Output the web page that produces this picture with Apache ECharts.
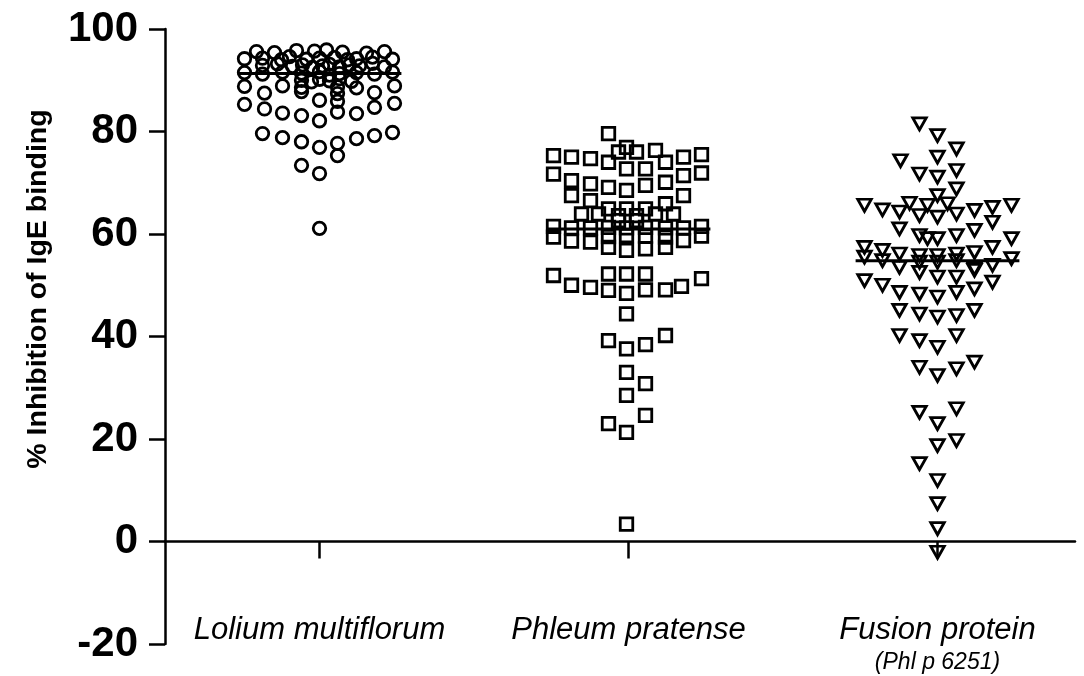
<!DOCTYPE html>
<html><head><meta charset="utf-8">
<script src="https://cdn.jsdelivr.net/npm/echarts@6/dist/echarts.min.js"></script>
<style>html,body{margin:0;padding:0;background:#fff}#c{width:1084px;height:676px}</style>
</head><body><div id="c"></div>
<script>
// ---- data ----
const categories = ['Lolium multiflorum', 'Phleum pratense', 'Fusion protein'];
const subLabels = ['', '', '(Phl p 6251)'];
const yTicks = [-20, 0, 20, 40, 60, 80, 100];
const yTitle = '% Inhibition of IgE binding';
const means = [91.3, 61.0, 54.8];
// [horizontal jitter (1/309 of category spacing), % inhibition]
const lolium = [
  [-63,95.6],[-45,95.4],[-23,95.8],[-5,95.7],[7,95.9],[23,95.5],[47,95.3],[65,95.6],
  [-75,94.2],[-57,94.3],[-38,94.0],[-30,94.6],[-13,94.1],[0,94.3],[15,94.4],[28,94.0],[37,94.2],[53,94.5],[73,94.1],
  [-57,92.9],[-42,93.2],[-27,92.7],[-17,93.0],[-7,92.5],[3,92.8],[10,93.1],[20,92.6],[30,93.0],[40,92.8],[53,93.3],[65,92.6],
  [-75,91.5],[-57,91.2],[-37,91.6],[-18,91.4],[0,91.7],[10,91.0],[20,91.3],[37,91.5],[55,91.2],[73,91.6],
  [-18,90.0],[-8,89.7],[0,90.2],[10,89.9],[20,90.3],[32,89.8],
  [-75,88.8],[-37,88.9],[-18,88.6],[18,88.7],[37,88.5],[75,88.9],
  [-55,87.5],[-18,87.8],[18,87.4],[55,87.6],
  [0,86.1],[18,85.9],
  [-75,85.3],[75,85.5],
  [-55,84.4],[55,84.7],
  [-37,83.6],[18,83.8],[37,83.5],
  [-18,83.1],[0,82.1],
  [-57,79.6],[73,79.8],[55,79.2],[-37,78.8],[37,78.6],[-18,78.0],[0,76.9],[18,77.7],
  [18,75.3],[-18,73.4],[0,71.8],[0,61.1]
];
const phleum = [
  [-20,79.6],
  [-2,76.9],
  [-10,76.0],[8,76.0],[27,76.3],
  [-75,75.3],[-57,75.0],[-38,74.7],[-20,74.0],[37,74.0],[55,75.0],[73,75.5],
  [-2,72.7],[17,72.7],
  [-75,71.7],[55,71.4],[73,71.9],
  [-57,70.4],[-38,69.8],[-20,69.1],[-2,68.5],[17,69.5],[37,70.1],
  [-57,67.5],[-38,66.5],[55,67.5],[37,65.9],
  [-47,63.9],[-30,63.9],[-20,64.9],[-10,63.6],[-2,64.9],[8,63.6],[17,64.9],[27,63.9],[45,63.9],
  [-10,62.6],[8,62.6],
  [-75,61.5],[-57,61.2],[-38,61.2],[-20,61.3],[-2,61.2],[17,61.3],[37,61.2],[55,61.2],[73,61.5],
  [-75,59.4],[-20,59.5],[-2,59.7],[17,59.6],[37,59.4],[73,59.6],
  [-57,58.6],[-38,58.4],[55,58.7],
  [-20,57.4],[-2,56.8],[17,57.1],[37,57.4],
  [-20,52.2],[-2,52.2],[17,52.2],[-75,51.9],[73,51.3],
  [-57,50.0],[-38,49.6],[-20,49.0],[-2,48.4],[17,49.1],[37,49.1],[53,49.8],
  [-2,44.4],
  [-20,39.2],[-2,37.6],[17,38.4],[37,40.2],
  [-2,33.0],[17,30.8],[-2,28.5],
  [17,24.6],[-20,23.0],[-2,21.3],[-2,3.4]
];
const fusion = [
  [-18,81.5],[0,79.2],[19,76.6],[-37,74.3],[0,75.0],[-18,71.7],[0,71.1],[19,72.4],[19,68.8],[0,67.5],
  [-73,65.6],[-55,64.7],[-38,64.3],[-28,66.0],[-18,63.6],[-10,65.6],[0,63.3],[10,65.9],[19,63.9],[37,64.6],[55,65.2],[74,65.6],
  [-38,61.0],[-18,59.7],[-10,59.1],[0,59.1],[19,59.7],[37,60.7],[55,62.3],[74,59.1],
  [-73,57.4],[-55,56.8],[-38,56.1],[-18,55.8],[0,55.8],[19,56.1],[37,56.4],[55,57.4],
  [-73,55.5],[-55,54.8],[-38,53.5],[-18,54.5],[0,54.5],[19,54.8],[37,53.2],[55,53.9],[74,55.2],
  [-18,52.5],[0,51.6],[19,51.6],[37,52.9],
  [-73,50.9],[-55,50.0],[-38,48.6],[-18,48.3],[0,47.7],[19,48.6],[37,49.3],[55,50.6],
  [-38,45.1],[-18,44.4],[0,43.8],[19,44.1],[37,45.1],
  [-38,40.2],[-18,39.2],[0,37.9],[19,40.2],
  [-18,34.0],[0,32.4],[19,33.7],[37,35.0],
  [-18,25.2],[19,25.9],[0,23.0],[0,18.7],[19,19.7],[-18,15.2],[0,11.9],[0,7.4],[0,2.5],[0,-2.1]
];
const groups = [lolium, phleum, fusion];

// ---- chart ----
const JITTER_UNIT = 309;
const MEAN_HALF = 0.265;
const symbols = [
  {symbol: 'circle', symbolSize: 12.5, symbolRotate: 0},
  {symbol: 'rect', symbolSize: 12.5, symbolRotate: 0},
  {symbol: 'triangle', symbolSize: [13.5, 12], symbolRotate: 180}
];
const series = [];
groups.forEach((g, i) => {
  series.push({
    type: 'scatter',
    data: g.map(p => [i + p[0] / JITTER_UNIT, p[1]]),
    symbol: symbols[i].symbol,
    symbolSize: symbols[i].symbolSize,
    symbolRotate: symbols[i].symbolRotate,
    itemStyle: {color: 'rgba(255,255,255,0)', borderColor: '#000', borderWidth: 2.8, opacity: 1},
    z: 2
  });
  series.push({
    type: 'line',
    data: [[i - MEAN_HALF, means[i]], [i + MEAN_HALF, means[i]]],
    symbol: 'none',
    lineStyle: {color: '#000', width: 3},
    z: 3
  });
});

const chart = echarts.init(document.getElementById('c'));
chart.setOption({
  animation: false,
  backgroundColor: '#fff',
  grid: {left: 165, right: 9, top: 29, bottom: 32, containLabel: false, outerBoundsMode: 'none'},
  xAxis: {
    type: 'value', min: -0.5, max: -0.5 + 910 / JITTER_UNIT,
    splitLine: {show: false},
    axisLine: {onZero: true, lineStyle: {color: '#000', width: 2.5}},
    axisTick: {show: true, customValues: [0, 1, 2], length: 17, lineStyle: {color: '#000', width: 2.5}},
    axisLabel: {
      customValues: [0, 1, 2], margin: -30,
      formatter: v => {
        const i = Math.round(v);
        return subLabels[i] ? '{a|' + categories[i] + '}\n{b|' + subLabels[i] + '}' : '{a|' + categories[i] + '}';
      },
      rich: {
        a: {fontFamily: 'Liberation Sans', fontStyle: 'italic', fontSize: 31, lineHeight: 32, color: '#000'},
        b: {fontFamily: 'Liberation Sans', fontStyle: 'italic', fontSize: 23, lineHeight: 34, color: '#000'}
      }
    }
  },
  yAxis: {
    type: 'value', min: yTicks[0], max: yTicks[yTicks.length - 1], interval: 20,
    splitLine: {show: false},
    axisLine: {show: true, onZero: false, lineStyle: {color: '#000', width: 2.5}},
    axisTick: {show: true, length: 16, lineStyle: {color: '#000', width: 2.5}},
    axisLabel: {margin: 27, fontFamily: 'Liberation Sans', fontWeight: 'bold', fontSize: 42, color: '#000'}
  },
  graphic: [{
    type: 'text', x: 38, y: 289, rotation: Math.PI / 2,
    style: {text: yTitle, fontFamily: 'Liberation Sans', fontWeight: 'bold', fontSize: 28.5, fill: '#000',
            align: 'center', verticalAlign: 'middle'}
  }],
  series: series
});
</script></body></html>
